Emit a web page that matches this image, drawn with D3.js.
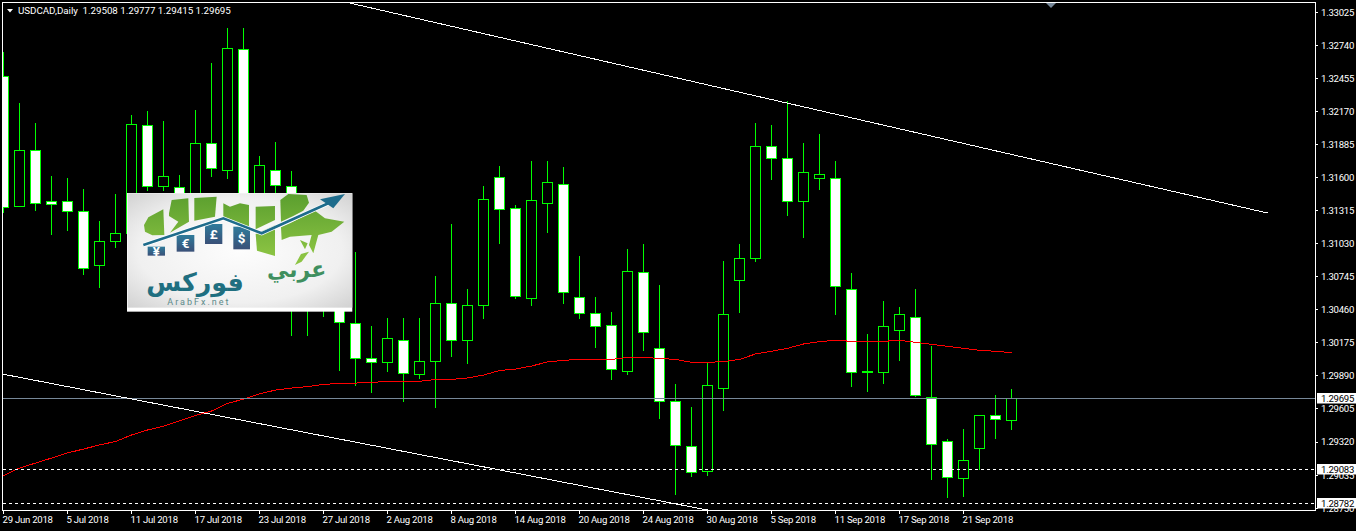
<!DOCTYPE html>
<html><head><meta charset="utf-8">
<script src="https://cdnjs.cloudflare.com/ajax/libs/d3/7.8.5/d3.min.js"></script>
<style>html,body{margin:0;padding:0;background:#000;overflow:hidden}svg{display:block}text{font-family:Roboto,"Liberation Sans",sans-serif}</style>
</head><body><svg id="c" width="1356" height="531"></svg>
<script>
const symbol="USDCAD,Daily";
const quote=["1.29508","1.29777","1.29415","1.29695"];
const priceTicks=[1.33025,1.32740,1.32455,1.32170,1.31885,1.31600,1.31315,1.31030,1.30745,1.30460,1.30175,1.29890,1.29605,1.29320,1.29035,1.28750];
const dateLabels=["29 Jun 2018","5 Jul 2018","11 Jul 2018","17 Jul 2018","23 Jul 2018","27 Jul 2018","2 Aug 2018","8 Aug 2018","14 Aug 2018","20 Aug 2018","24 Aug 2018","30 Aug 2018","5 Sep 2018","11 Sep 2018","17 Sep 2018","21 Sep 2018"];
const dateBarStep=4;
const open=[1.32465,1.31347,1.31830,1.31392,1.31389,1.31302,1.30840,1.31044,1.31119,1.32048,1.31522,1.31513,1.31360,1.31893,1.31660,1.32704,1.31274,1.31660,1.31522,1.31188,1.30972,1.30627,1.30340,1.30038,1.30003,1.30193,1.29899,1.30012,1.30512,1.30193,1.30495,1.31599,1.31332,1.30555,1.31375,1.31539,1.30564,1.30426,1.30322,1.29925,1.30780,1.30124,1.29667,1.29278,1.29063,1.29779,1.30711,1.30900,1.31867,1.31763,1.31392,1.31591,1.31591,1.30633,1.29922,1.29917,1.30279,1.30391,1.29701,1.29321,1.29002,1.29261,1.29546,1.29508];
const high=[1.32680,1.32240,1.32068,1.31610,1.31593,1.31498,1.31222,1.31455,1.32137,1.32171,1.32085,1.31619,1.32180,1.32585,1.32887,1.32887,1.31783,1.31904,1.31654,1.31403,1.31274,1.31058,1.30955,1.30316,1.30385,1.30385,1.30385,1.30748,1.31196,1.30636,1.31524,1.31697,1.31360,1.31740,1.31740,1.31688,1.30920,1.30566,1.30437,1.30981,1.31024,1.30670,1.29816,1.29617,1.29997,1.30877,1.31024,1.32068,1.32050,1.32258,1.31895,1.31973,1.31740,1.30774,1.30247,1.30532,1.30480,1.30636,1.30144,1.29341,1.29428,1.29546,1.29721,1.29777];
const low=[1.31291,1.31343,1.31311,1.31101,1.31136,1.30756,1.30647,1.30992,1.31093,1.31484,1.31484,1.31352,1.31274,1.31604,1.31587,1.31214,1.31214,1.31403,1.30233,1.30233,1.30397,1.29931,1.29801,1.29741,1.29922,1.29663,1.29859,1.29611,1.30051,1.29991,1.30379,1.31026,1.30552,1.30491,1.31121,1.30509,1.30379,1.30129,1.29853,1.29896,1.30103,1.29516,1.28861,1.29016,1.29025,1.29586,1.30431,1.30871,1.31579,1.31268,1.31078,1.31492,1.30414,1.29793,1.29749,1.29818,1.30017,1.29704,1.28990,1.28835,1.28843,1.29076,1.29344,1.29415];
const close=[1.31334,1.31830,1.31373,1.31363,1.31306,1.30814,1.31044,1.31116,1.32057,1.31522,1.31608,1.31403,1.31893,1.31677,1.32712,1.31274,1.31703,1.31530,1.31058,1.30627,1.30497,1.30340,1.30038,1.30003,1.30210,1.29908,1.30012,1.30512,1.30193,1.30495,1.31409,1.31323,1.30573,1.31401,1.31556,1.30607,1.30426,1.30314,1.29943,1.30788,1.30262,1.29667,1.29287,1.29054,1.29805,1.30417,1.30900,1.31867,1.31763,1.31392,1.31642,1.31625,1.30659,1.29917,1.29922,1.30314,1.30417,1.29718,1.29296,1.29011,1.29158,1.29546,1.29511,1.29695];
const movingAverage=[1.29026,1.29091,1.29134,1.29177,1.29221,1.29255,1.29290,1.29320,1.29376,1.29419,1.29453,1.29497,1.29544,1.29583,1.29648,1.29686,1.29730,1.29764,1.29781,1.29794,1.29812,1.29822,1.29824,1.29831,1.29836,1.29837,1.29839,1.29855,1.29856,1.29868,1.29893,1.29932,1.29945,1.29971,1.30006,1.30020,1.30028,1.30028,1.30028,1.30045,1.30045,1.30037,1.30028,1.30003,1.30003,1.30009,1.30028,1.30075,1.30098,1.30124,1.30161,1.30181,1.30193,1.30184,1.30184,1.30184,1.30193,1.30176,1.30158,1.30141,1.30124,1.30107,1.30098,1.30086];
const trendUpper=[[21.34,1.33112],[79,1.31291]];
const trendLower=[[0,1.29900],[44,1.28729]];
const bidLine=1.29695;
const dashedLevels=[1.29083,1.28782];

const svg=d3.select("#c");
const x=d3.scaleLinear().domain([0,63]).range([3.5,1011.5]);
const y=d3.scaleLinear().domain([1.29320,1.33025]).range([441.5,12]);
const crisp=v=>Math.round(v)+.5;
const row=v=>Math.floor(v+.1)+.5;
const fmt=d3.format(".5f");

svg.append("defs").html(`<clipPath id="pc"><rect x="3" y="3" width="1312" height="507"/></clipPath>
<radialGradient id="lg" cx="50%" cy="50%" r="70%"><stop offset="0" stop-color="#fdfdfd"/><stop offset=".65" stop-color="#f0f0f0"/><stop offset="1" stop-color="#d2d2d2"/></radialGradient>
<linearGradient id="gr" gradientUnits="userSpaceOnUse" x1="0" y1="10" x2="0" y2="200"><stop offset="0" stop-color="#5a9e2e"/><stop offset="1" stop-color="#8cc443"/></linearGradient>
<linearGradient id="bx" x1="0" y1="0" x2="0" y2="1"><stop offset="0" stop-color="#2f7b9b"/><stop offset="1" stop-color="#3a5078"/></linearGradient>`);

const g=svg.append("g").attr("clip-path","url(#pc)");
const rows=d3.range(open.length).map(i=>({i,o:open[i],h:high[i],l:low[i],c:close[i]}));
g.append("g").selectAll("line").data(rows).join("line")
 .attr("x1",d=>Math.floor(x(d.i))+.5).attr("x2",d=>Math.floor(x(d.i))+.5)
 .attr("y1",d=>y(d.h)).attr("y2",d=>y(d.l)).attr("stroke","#00ff00").attr("stroke-width",1).attr("shape-rendering","crispEdges");
g.append("g").selectAll("rect").data(rows).join("rect")
 .attr("x",d=>Math.floor(x(d.i))-4.5).attr("width",10)
 .attr("y",d=>crisp(y(Math.max(d.o,d.c))-.5))
 .attr("height",d=>Math.max(1,Math.round(Math.abs(y(d.o)-y(d.c)))))
 .attr("fill",d=>d.c>d.o?"#000":"#fff").attr("stroke","#00ff00").attr("stroke-width",1).attr("shape-rendering","crispEdges");
g.append("path").datum(movingAverage).attr("fill","none").attr("stroke","#ff0000").attr("stroke-width",1).attr("shape-rendering","crispEdges")
 .attr("d",d3.line().x((d,i)=>x(i)).y(d=>y(d)));
g.append("line").attr("x1",3).attr("x2",1315).attr("y1",row(y(bidLine))).attr("y2",row(y(bidLine))).attr("stroke","#778899").attr("shape-rendering","crispEdges");
g.selectAll(".lvl").data(dashedLevels).join("line").attr("class","lvl")
 .attr("x1",3).attr("x2",1315).attr("y1",d=>row(y(d))).attr("y2",d=>row(y(d)))
 .attr("stroke","#fff").attr("stroke-dasharray","3 3").attr("shape-rendering","crispEdges");
for(const t of [trendUpper,trendLower])
 g.append("line").attr("x1",x(t[0][0])).attr("y1",y(t[0][1])).attr("x2",x(t[1][0])).attr("y2",y(t[1][1])).attr("stroke","#fff").attr("stroke-width",1).attr("shape-rendering","crispEdges");
svg.append("path").attr("d","M1046,3H1056L1051,8Z").attr("fill","#778899");

svg.append("rect").attr("x",2.5).attr("y",2.5).attr("width",1313).attr("height",508).attr("fill","none").attr("stroke","#fff").attr("shape-rendering","crispEdges");

const pa=svg.append("g").attr("transform","translate(1316,0)").call(d3.axisRight(y).tickValues(priceTicks).tickFormat(fmt).tickSize(2).tickPadding(3));
pa.select(".domain").remove();
pa.selectAll("line").attr("stroke","#fff").attr("shape-rendering","crispEdges");
pa.selectAll("text").attr("fill","#fff").style("font-size","9.6px").style("letter-spacing","-0.25px").attr("dy","0.36em").attr("x",5);

const ta=svg.append("g").attr("transform","translate(0,511)");
const ticks=ta.selectAll("g").data(dateLabels).join("g").attr("transform",(d,i)=>`translate(${Math.floor(x(i*dateBarStep))+.5},0)`);
ticks.append("line").attr("y1",0).attr("y2",3).attr("stroke","#fff").attr("shape-rendering","crispEdges");
ticks.append("text").text(d=>d).attr("x",-1).attr("y",12).attr("fill","#fff").style("font-size","9.6px").style("letter-spacing","-0.25px");

const boxes=[bidLine,...dashedLevels];
const bx=svg.append("g").selectAll("g").data(boxes).join("g").attr("transform",d=>`translate(1317,${row(y(d))})`);
bx.append("rect").attr("x",0).attr("y",-5.5).attr("width",39).attr("height",10.5).attr("fill","#fff");
bx.append("text").text(fmt).attr("x",4).attr("y",3.4).attr("fill","#000").style("font-size","9.6px").style("letter-spacing","-0.25px");

svg.append("path").attr("d","M7,9H13L10,12.5Z").attr("fill","#fff");
svg.append("text").attr("x",18).attr("y",14).attr("fill","#fff").style("font-size","9.8px").style("letter-spacing","-0.05px").style("white-space","pre")
 .text(symbol+"  "+quote.join(" "));

// logo (image overlay in the reference)
const lg=svg.append("g").attr("transform","translate(125,190) scale(.3333)");
lg.append("rect").attr("x",6).attr("y",9).attr("width",676).attr("height",356).attr("fill","#fff");
lg.append("rect").attr("x",8).attr("y",10).attr("width",674).attr("height",343).attr("fill","url(#lg)");
const greens=["M57,105L70,82L115,58L118,135L82,136L60,125Z",
"M132,70L140,30L190,25L192,95L135,128L160,95L132,78Z",
"M208,24L275,20L270,80L208,92Z",
"M295,40L315,50L345,40L372,45L372,115L325,92L295,82Z",
"M392,50L450,48L450,90L392,118Z",
"M392,132L450,106L450,198L396,182Z",
"M466,30L490,12L545,15L552,38L535,62L505,78L468,95Z",
"M468,112L495,100L570,62L600,85L658,95L620,125L580,135L565,190L552,165L560,135L495,140L470,150Z",
"M525,150L548,160L540,178Z",
"M510,225L528,192L552,185L530,215Z"];
lg.selectAll(".gr").data(greens).join("path").attr("class","gr").attr("d",d=>d).attr("fill","url(#gr)");
const cur=[["¥",68,170,52,27],["€",155,135,53,50],["£",240,102,52,60],["$",325,110,50,68]];
const cg=lg.selectAll(".cur").data(cur).join("g").attr("class","cur");
cg.append("rect").attr("x",d=>d[1]).attr("y",d=>d[2]).attr("width",d=>d[3]).attr("height",d=>d[4]).attr("fill","url(#bx)");
cg.append("text").text(d=>d[0]).attr("x",d=>d[1]+d[3]/2).attr("y",d=>d[2]+d[4]/2+14).attr("text-anchor","middle").attr("fill","#fff").style("font-size","40px").style("font-weight","700");
lg.append("path").attr("d","M55,165L295,85L410,130L610,40").attr("fill","none").attr("stroke","#fff").attr("stroke-width",12);
lg.append("path").attr("d","M55,165L295,85L410,130L610,40").attr("fill","none").attr("stroke","#1e6c8c").attr("stroke-width",8);
lg.append("path").attr("d","M660,12L585,28L625,55Z").attr("fill","#1e6c8c");
lg.append("text").text("عربي").attr("x",515).attr("y",262).attr("text-anchor","middle").attr("fill","#3f8f5f").style("font-size","66px").style("font-family","'DejaVu Sans'").style("font-weight","700");
lg.append("text").text("فوركس").attr("x",210).attr("y",304).attr("text-anchor","middle").attr("fill","#1f6f80").style("font-size","76px").style("font-family","'DejaVu Sans'").style("font-weight","700");
lg.append("text").text("ArabFx.net").attr("x",127).attr("y",345).attr("fill","#5c8a8a").style("font-size","27px").style("letter-spacing","6px");
</script></body></html>
